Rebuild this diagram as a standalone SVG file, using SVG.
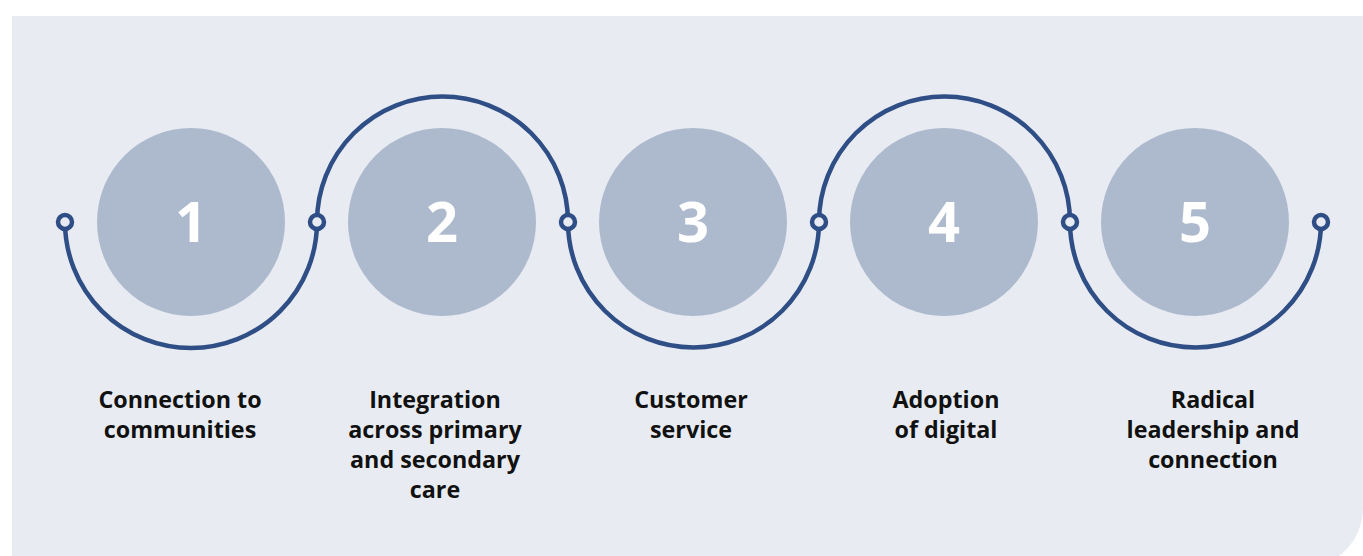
<svg xmlns="http://www.w3.org/2000/svg" width="1363" height="556" viewBox="0 0 1363 556">
  <defs>
    <style>
      .panel { fill: #e8ecf2; }
      .disc { fill: #adbace; }
      .num { font-family: "Open Sans", "Liberation Sans", sans-serif; font-weight: 700; font-size: 56px; fill: #ffffff; text-anchor: middle; }
      .label { font-family: "Open Sans", "Liberation Sans", sans-serif; font-weight: 700; font-size: 23.3px; fill: #111111; text-anchor: middle; }
      .wave { fill: none; stroke: #2e4e85; stroke-width: 4.5; stroke-linecap: round; }
      .knot { fill: #e8ecf2; stroke: #2e4e85; stroke-width: 4.5; }
    </style>
  </defs>

  <!-- background panel with rounded bottom-right corner -->
  <path class="panel" d="M12 16 H1363 V508 A60 60 0 0 1 1303 568 H12 Z"/>

  <!-- connector: alternating semicircles around the step discs
       (radius below half-chord so each arc is an exact half circle) -->
  <g id="connectors">
    <path class="wave" d="M65 222 A120 120 0 0 0 317 222 A120 120 0 0 1 568 222 A120 120 0 0 0 819 222 A120 120 0 0 1 1070 222 A120 120 0 0 0 1321 222"/>
    <circle class="knot" cx="65" cy="222" r="7"/>
    <circle class="knot" cx="317" cy="222" r="7"/>
    <circle class="knot" cx="568" cy="222" r="7"/>
    <circle class="knot" cx="819" cy="222" r="7"/>
    <circle class="knot" cx="1070" cy="222" r="7"/>
    <circle class="knot" cx="1321" cy="222" r="7"/>
  </g>

  <g id="step1">
    <circle class="disc" cx="191" cy="222" r="94"/>
    <text class="num" x="191" y="242">1</text>
    <text class="label" x="180" y="408">Connection to</text>
    <text class="label" x="180" y="438">communities</text>
  </g>

  <g id="step2">
    <circle class="disc" cx="442" cy="222" r="94"/>
    <text class="num" x="442" y="242">2</text>
    <text class="label" x="435" y="408">Integration</text>
    <text class="label" x="435" y="438">across primary</text>
    <text class="label" x="435" y="468">and secondary</text>
    <text class="label" x="435" y="498">care</text>
  </g>

  <g id="step3">
    <circle class="disc" cx="693" cy="222" r="94"/>
    <text class="num" x="693" y="242">3</text>
    <text class="label" x="691" y="408">Customer</text>
    <text class="label" x="691" y="438">service</text>
  </g>

  <g id="step4">
    <circle class="disc" cx="944" cy="222" r="94"/>
    <text class="num" x="944" y="242">4</text>
    <text class="label" x="946" y="408">Adoption</text>
    <text class="label" x="946" y="438">of digital</text>
  </g>

  <g id="step5">
    <circle class="disc" cx="1195" cy="222" r="94"/>
    <text class="num" x="1195" y="242">5</text>
    <text class="label" x="1213" y="408">Radical</text>
    <text class="label" x="1213" y="438">leadership and</text>
    <text class="label" x="1213" y="468">connection</text>
  </g>
</svg>
